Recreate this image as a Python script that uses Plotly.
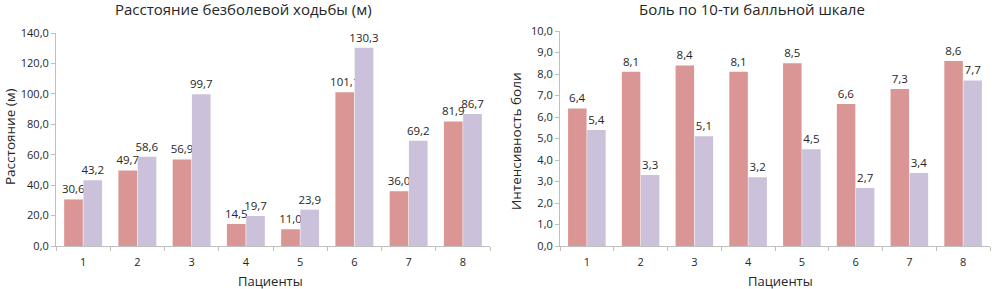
import plotly.graph_objects as go

patients = ["1", "2", "3", "4", "5", "6", "7", "8"]
dist_before = [30.6, 49.7, 56.9, 14.5, 11.0, 101.1, 36.0, 81.9]
dist_after = [43.2, 58.6, 99.7, 19.7, 23.9, 130.3, 69.2, 86.7]
pain_before = [6.4, 8.1, 8.4, 8.1, 8.5, 6.6, 7.3, 8.6]
pain_after = [5.4, 3.3, 5.1, 3.2, 4.5, 2.7, 3.4, 7.7]

title_left = "Расстояние безболевой ходьбы (м)"
title_right = "Боль по 10-ти балльной шкале"
ytitle_left = "Расстояние (м)"
ytitle_right = "Интенсивность боли"
xtitle = "Пациенты"

RED = "#D99694"
LAV = "#CCC1DA"
FONT = "Open Sans"
TXT = "#262626"
W, H = 1002, 289

fig = go.Figure()

def add_bars(y, color, xa, ya):
    fig.add_trace(go.Bar(
        x=patients, y=y, marker=dict(color=color, line=dict(width=0)),
        xaxis=xa, yaxis=ya, showlegend=False,
        texttemplate="%{y:.1f}", textposition="outside", constraintext="none",
        textfont=dict(size=11.5, color=TXT, family=FONT), cliponaxis=False,
    ))

add_bars(dist_before, RED, "x", "y")
add_bars(dist_after, LAV, "x", "y")
add_bars(pain_before, RED, "x2", "y2")
add_bars(pain_after, LAV, "x2", "y2")

axis_common = dict(showline=True, linecolor="#BFBFBF", linewidth=1, showgrid=False,
                   zeroline=False, tickfont=dict(size=11, color=TXT, family=FONT),
                   ticks="outside", tickcolor="#BFBFBF", ticklen=4, automargin=False)

def ann(text, x, y, size, angle=0):
    return dict(text=text, x=x / W, y=1 - y / H, xref="paper", yref="paper",
                xanchor="center", yanchor="middle", showarrow=False, textangle=angle,
                font=dict(size=size, color=TXT, family=FONT))

fig.update_layout(
    template="none",
    width=W, height=H, margin=dict(l=0, r=0, t=0, b=0, pad=0),
    paper_bgcolor="white", plot_bgcolor="white",
    separators=", ", barmode="group", bargap=0.29, bargroupgap=0.03,
    font=dict(family=FONT, color=TXT),
    xaxis=dict(domain=[56 / W, 490 / W], anchor="y", type="category",
               tickson="boundaries", ticklabelstandoff=6, **axis_common),
    yaxis=dict(domain=[1 - 246 / H, 1 - 33 / H], anchor="x", range=[0, 140], dtick=20,
               tickformat=".1f", **axis_common),
    xaxis2=dict(domain=[560 / W, 990 / W], anchor="y2", type="category",
                tickson="boundaries", ticklabelstandoff=6, **axis_common),
    yaxis2=dict(domain=[1 - 246 / H, 1 - 31 / H], anchor="x2", range=[0, 10], dtick=1,
                tickformat=".1f", **axis_common),
    annotations=[
        ann(title_left, 243, 9, 15),
        ann(title_right, 752, 9, 15),
        ann(xtitle, 270, 281, 13),
        ann(xtitle, 780, 281, 13),
        ann(ytitle_left, 10, 137, 13.5, -90),
        ann(ytitle_right, 516, 141, 13.5, -90),
    ],
)

fig.write_html("out.html", config={"displayModeBar": False},
               post_script="document.body.style.margin='0';")
